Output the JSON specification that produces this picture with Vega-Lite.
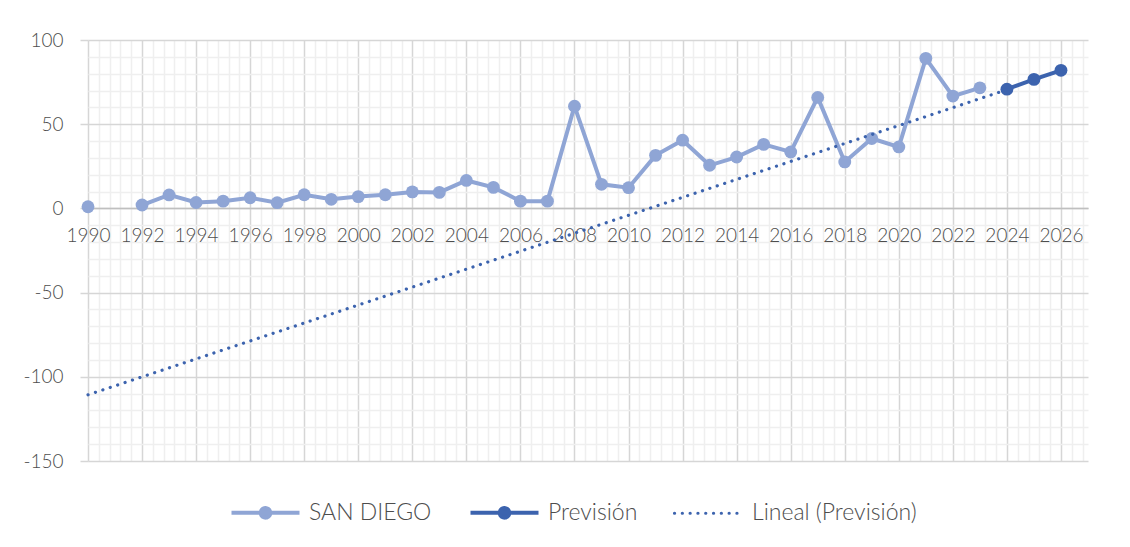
{
  "$schema": "https://vega.github.io/schema/vega-lite/v6.json",
  "width": 1000,
  "height": 421,
  "autosize": "none",
  "padding": {"left": 88, "top": 40, "right": 42, "bottom": 86},
  "background": "white",
  "config": {
    "view": {"stroke": null},
    "font": "Lato",
    "axis": {"labelFont": "Lato", "labelFontWeight": 300, "labelFontSize": 19, "labelColor": "#4D4D4D"},
    "legend": {"labelFont": "Lato", "labelFontWeight": 300, "labelFontSize": 23, "labelColor": "#4D4D4D", "labelLimit": 400}
  },
  "data": {
    "values": [
      {"year": 1990, "value": 1, "series": "SAN DIEGO"},
      {"year": 1991, "value": null, "series": "SAN DIEGO"},
      {"year": 1992, "value": 2, "series": "SAN DIEGO"},
      {"year": 1993, "value": 8, "series": "SAN DIEGO"},
      {"year": 1994, "value": 3.5, "series": "SAN DIEGO"},
      {"year": 1995, "value": 4.3, "series": "SAN DIEGO"},
      {"year": 1996, "value": 6.3, "series": "SAN DIEGO"},
      {"year": 1997, "value": 3.4, "series": "SAN DIEGO"},
      {"year": 1998, "value": 8.1, "series": "SAN DIEGO"},
      {"year": 1999, "value": 5.4, "series": "SAN DIEGO"},
      {"year": 2000, "value": 7, "series": "SAN DIEGO"},
      {"year": 2001, "value": 8.1, "series": "SAN DIEGO"},
      {"year": 2002, "value": 9.8, "series": "SAN DIEGO"},
      {"year": 2003, "value": 9.5, "series": "SAN DIEGO"},
      {"year": 2004, "value": 16.6, "series": "SAN DIEGO"},
      {"year": 2005, "value": 12.5, "series": "SAN DIEGO"},
      {"year": 2006, "value": 4.3, "series": "SAN DIEGO"},
      {"year": 2007, "value": 4.3, "series": "SAN DIEGO"},
      {"year": 2008, "value": 60.7, "series": "SAN DIEGO"},
      {"year": 2009, "value": 14.3, "series": "SAN DIEGO"},
      {"year": 2010, "value": 12.3, "series": "SAN DIEGO"},
      {"year": 2011, "value": 31.5, "series": "SAN DIEGO"},
      {"year": 2012, "value": 40.5, "series": "SAN DIEGO"},
      {"year": 2013, "value": 25.6, "series": "SAN DIEGO"},
      {"year": 2014, "value": 30.5, "series": "SAN DIEGO"},
      {"year": 2015, "value": 38, "series": "SAN DIEGO"},
      {"year": 2016, "value": 33.5, "series": "SAN DIEGO"},
      {"year": 2017, "value": 65.9, "series": "SAN DIEGO"},
      {"year": 2018, "value": 27.6, "series": "SAN DIEGO"},
      {"year": 2019, "value": 41.5, "series": "SAN DIEGO"},
      {"year": 2020, "value": 36.5, "series": "SAN DIEGO"},
      {"year": 2021, "value": 89.1, "series": "SAN DIEGO"},
      {"year": 2022, "value": 66.7, "series": "SAN DIEGO"},
      {"year": 2023, "value": 71.6, "series": "SAN DIEGO"},
      {"year": 2024, "value": 70.8, "series": "Previsión"},
      {"year": 2025, "value": 76.6, "series": "Previsión"},
      {"year": 2026, "value": 82, "series": "Previsión"},
      {"year": 1990, "value": -110.7, "series": "Lineal (Previsión)"},
      {"year": 2024, "value": 70.5, "series": "Lineal (Previsión)"}
    ]
  },
  "encoding": {
    "x": {
      "field": "year", "type": "quantitative",
      "scale": {"domain": [1990, 2027], "nice": false, "zero": false},
      "axis": {
        "title": null, "offset": -253, "orient": "bottom",
        "tickCount": 500,
        "values": [1990,1990.4,1990.8,1991.2,1991.6,1992,1992.4,1992.8,1993.2,1993.6,1994,1994.4,1994.8,1995.2,1995.6,1996,1996.4,1996.8,1997.2,1997.6,1998,1998.4,1998.8,1999.2,1999.6,2000,2000.4,2000.8,2001.2,2001.6,2002,2002.4,2002.8,2003.2,2003.6,2004,2004.4,2004.8,2005.2,2005.6,2006,2006.4,2006.8,2007.2,2007.6,2008,2008.4,2008.8,2009.2,2009.6,2010,2010.4,2010.8,2011.2,2011.6,2012,2012.4,2012.8,2013.2,2013.6,2014,2014.4,2014.8,2015.2,2015.6,2016,2016.4,2016.8,2017.2,2017.6,2018,2018.4,2018.8,2019.2,2019.6,2020,2020.4,2020.8,2021.2,2021.6,2022,2022.4,2022.8,2023.2,2023.6,2024,2024.4,2024.8,2025.2,2025.6,2026,2026.4,2026.8],
        "labelExpr": "datum.value % 2 === 0 ? '' + datum.value : ''",
        "labelOverlap": false,
        "labelPadding": 18,
        "labelFlush": false,
        "tickSize": 0,
        "domainColor": "#BFBFBF", "domainWidth": 1.5,
        "grid": true,
        "gridColor": {"condition": {"test": "datum.value % 2 === 0", "value": "#D6D6D6"}, "value": "#EFEFEF"},
        "gridWidth": 1.5
      }
    },
    "y": {
      "field": "value", "type": "quantitative",
      "scale": {"domain": [-150, 100], "nice": false},
      "axis": {
        "title": null,
        "tickCount": 500,
        "values": [-150,-140,-130,-120,-110,-100,-90,-80,-70,-60,-50,-40,-30,-20,-10,0,10,20,30,40,50,60,70,80,90,100],
        "labelExpr": "datum.value % 50 === 0 ? '' + datum.value : ''",
        "labelOverlap": false,
        "labelPadding": 17,
        "tickSize": 8,
        "tickColor": {"condition": {"test": "datum.value % 50 === 0", "value": "#D6D6D6"}, "value": "transparent"},
        "tickWidth": 1.5,
        "domain": false,
        "grid": true,
        "gridColor": {"condition": {"test": "datum.value % 50 === 0", "value": "#D6D6D6"}, "value": "#EFEFEF"},
        "gridWidth": 1.5
      }
    },
    "color": {
      "field": "series", "type": "nominal",
      "scale": {"domain": ["SAN DIEGO", "Previsión", "Lineal (Previsión)"], "range": ["#8FA5D5", "#3C63AE", "#3C63AE"]},
      "legend": {
        "title": null, "orient": "none", "direction": "horizontal", "legendX": 166, "legendY": 461,
        "symbolSize": 4624, "symbolStrokeWidth": 4, "labelOffset": 32, "columnPadding": 30,
        "symbolType": "stroke", "labelLimit": 400,
        "encode": {
          "symbols": {
            "update": {
              "shape": {"signal": "datum.value === 'Lineal (Previsión)' ? 'M-1,0H1' : 'M-1,0H1M-0.14,0A0.14,0.14 0 1,0 0.14,0A0.14,0.14 0 1,0 -0.14,0'"},
              "fill": {"signal": "datum.value === 'Lineal (Previsión)' ? 'transparent' : scale('color', datum.value)"},
              "stroke": {"signal": "scale('color', datum.value)"},
              "strokeWidth": {"signal": "datum.value === 'Lineal (Previsión)' ? 3.2 : 4"},
              "strokeDash": {"signal": "datum.value === 'Lineal (Previsión)' ? [0.1, 7.7] : [1, 0]"},
              "strokeCap": {"signal": "datum.value === 'Lineal (Previsión)' ? 'round' : 'butt'"},
              "opacity": {"value": 1}
            }
          }
        }
      }
    }
  },
  "layer": [
    {
      "transform": [{"filter": "datum.series !== 'Lineal (Previsión)'"}],
      "mark": {"type": "line", "strokeWidth": 4, "invalid": "break-paths-filter-domains"}
    },
    {
      "transform": [{"filter": "datum.series !== 'Lineal (Previsión)' && datum.value !== null"}],
      "mark": {"type": "point", "filled": true, "size": 165, "opacity": 1, "shape": "circle"}
    },
    {
      "transform": [{"filter": "datum.series === 'Lineal (Previsión)'"}],
      "mark": {"type": "line", "strokeWidth": 3.2, "strokeDash": [0.1, 7.7], "strokeCap": "round"}
    }
  ]
}
